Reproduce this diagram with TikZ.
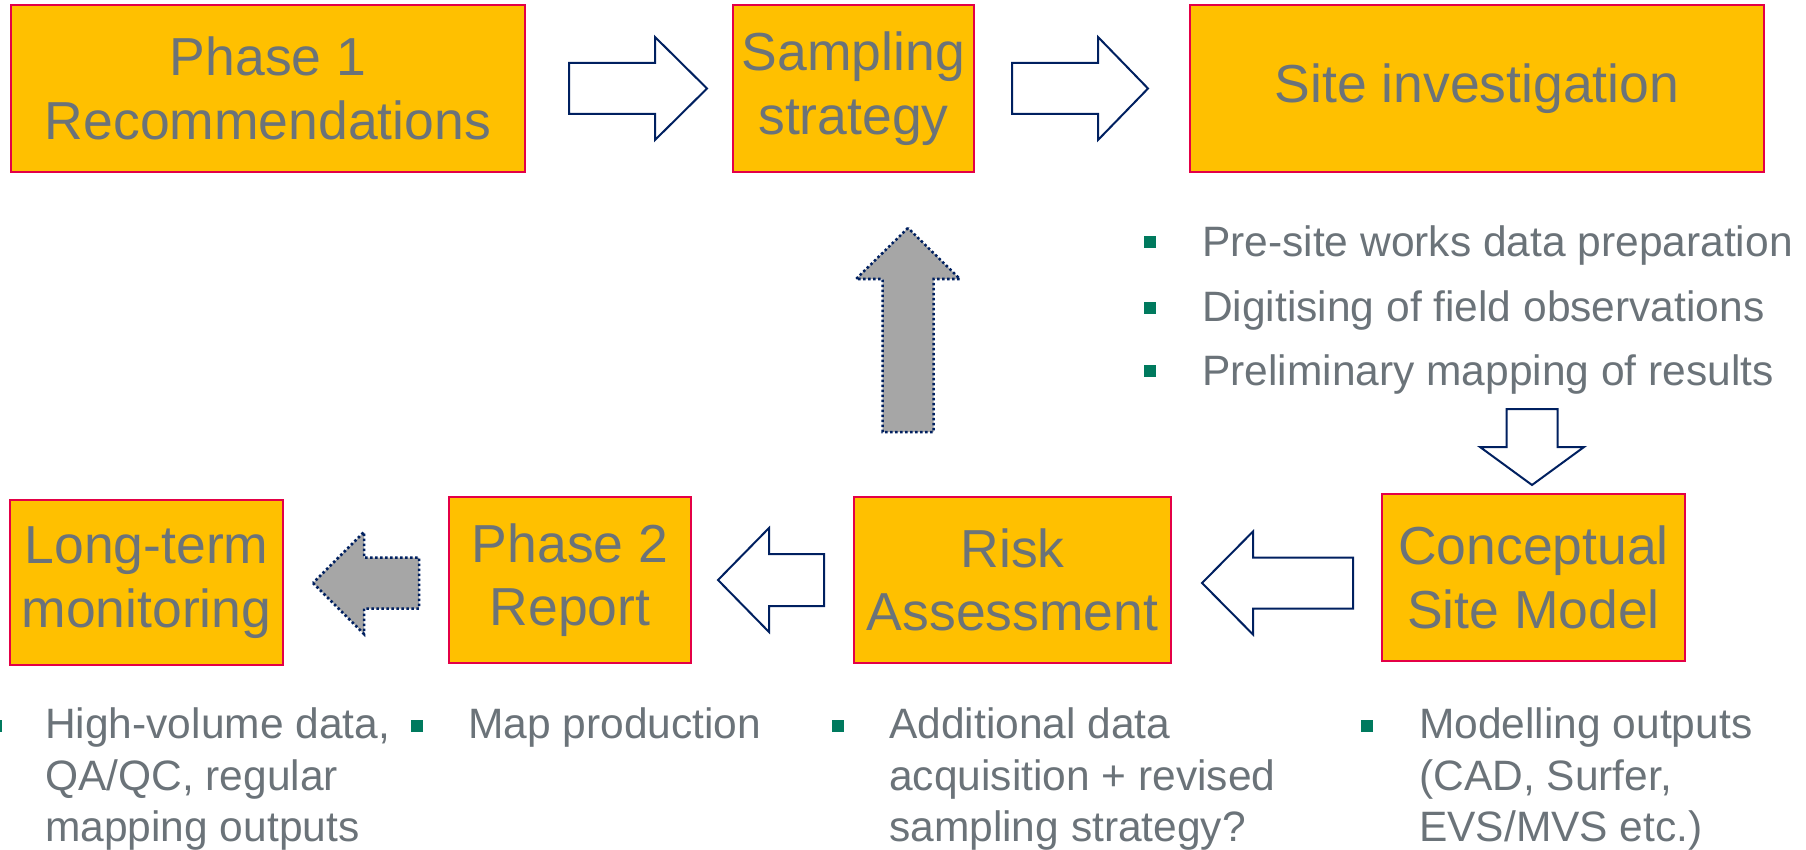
\documentclass[tikz,border=0pt]{standalone}
\usepackage{fontspec}
\setmainfont{Liberation Sans}
\definecolor{boxfill}{RGB}{255,192,0}
\definecolor{boxline}{RGB}{228,0,70}
\definecolor{navy}{RGB}{0,32,96}
\definecolor{arrowgray}{RGB}{166,166,166}
\definecolor{bulgreen}{RGB}{0,122,94}
\definecolor{txtgray}{RGB}{107,115,121}
\tikzset{
  stagebox/.style={draw=boxline, fill=boxfill, line width=2.5pt, inner sep=0pt, align=center, text=txtgray, font=\fontsize{53.5}{63.5}\selectfont},
  % block arrow drawn from its tip: length / shaft half width / head half width / head length
  pics/blockarr/.style args={#1/#2/#3/#4}{code={
    \path[pic actions] (0,0) -- (-#4,-#3) -- (-#4,-#2) -- (-#1,-#2) -- (-#1,#2) -- (-#4,#2) -- (-#4,#3) -- cycle;
  }},
  whitearrow/.style={draw=navy, fill=white, line width=2pt, line join=miter},
  grayarrow/.style={draw=navy, fill=arrowgray, line width=2.5pt, dash pattern=on 2.5pt off 2.5pt},
  bulletsq/.style={fill=bulgreen, inner sep=0pt, minimum size=12pt},
  itemtext/.style={text=txtgray, font=\fontsize{42.5}{51.5}\selectfont, align=left, inner sep=0pt, anchor=north west}
}
\begin{document}
\begin{tikzpicture}[x=1pt,y=-1pt]
\useasboundingbox (0,0) rectangle (1806,850);
% boxes
\node[stagebox, minimum width=514pt, minimum height=167pt] (p1) at (268,88.5) {Phase 1\\Recommendations};
\node[stagebox, minimum width=241pt, minimum height=167pt] (samp) at (853.5,88.5) {Sampling\\strategy};
\node[stagebox, minimum width=574pt, minimum height=167pt] (site) at (1477,88.5) {Site investigation};
\node[stagebox, minimum width=273pt, minimum height=165pt] (ltm) at (146.5,582.5) {Long-term\\monitoring};
\node[stagebox, minimum width=242pt, minimum height=166pt] (p2) at (570,580) {Phase 2\\Report};
\node[stagebox, minimum width=317pt, minimum height=166pt] (risk) at (1012.5,580) {Risk\\Assessment};
\node[stagebox, minimum width=303pt, minimum height=167pt] (csm) at (1533.5,577.5) {Conceptual\\Site Model};
% block arrows (placed at their tips)
\pic[whitearrow] (a1) at (707,88.5) {blockarr=138/25.5/51.5/52};
\pic[whitearrow] (a2) at (1148,88.5) {blockarr=136/25.5/51.5/50};
\pic[grayarrow, rotate=90] (g1) at (908,228) {blockarr=204/25.5/52/51};
\pic[whitearrow, rotate=-90] (d1) at (1532,485) {blockarr=76/25.5/52/38};
\pic[whitearrow, rotate=180] (a3) at (1202,583) {blockarr=151/25.5/51.5/51};
\pic[whitearrow, rotate=180] (a4) at (718,580) {blockarr=106/26/52/51};
\pic[grayarrow, rotate=180] (g2) at (313,583) {blockarr=106/25.5/51/51};
% right list
\node[bulletsq] (rb1) at (1150,242.5) {};
\node[bulletsq] (rb2) at (1150,307.5) {};
\node[bulletsq] (rb3) at (1150,370.5) {};
\node[itemtext, anchor=base west] (rt1) at (1202,257) {Pre-site works data preparation};
\node[itemtext, anchor=base west] (rt2) at (1202,321) {Digitising of field observations};
\node[itemtext, anchor=base west] (rt3) at (1202,385) {Preliminary mapping of results};
% bottom lists
\node[bulletsq] (bb1) at (-4,725.5) {};
\node[bulletsq] (bb2) at (416.5,725.5) {};
\node[bulletsq] (bb3) at (837.5,725.5) {};
\node[bulletsq] (bb4) at (1367,725.5) {};
\node[itemtext] (bt1) at (45,707.5) {High-volume data,\\QA/QC, regular\\mapping outputs};
\node[itemtext] (bt2) at (468,707.5) {Map production};
\node[itemtext] (bt3) at (889,707.5) {Additional data\\acquisition + revised\\sampling strategy?};
\node[itemtext] (bt4) at (1419,707.5) {Modelling outputs\\(CAD, Surfer,\\EVS/MVS etc.)};
\end{tikzpicture}
\end{document}
